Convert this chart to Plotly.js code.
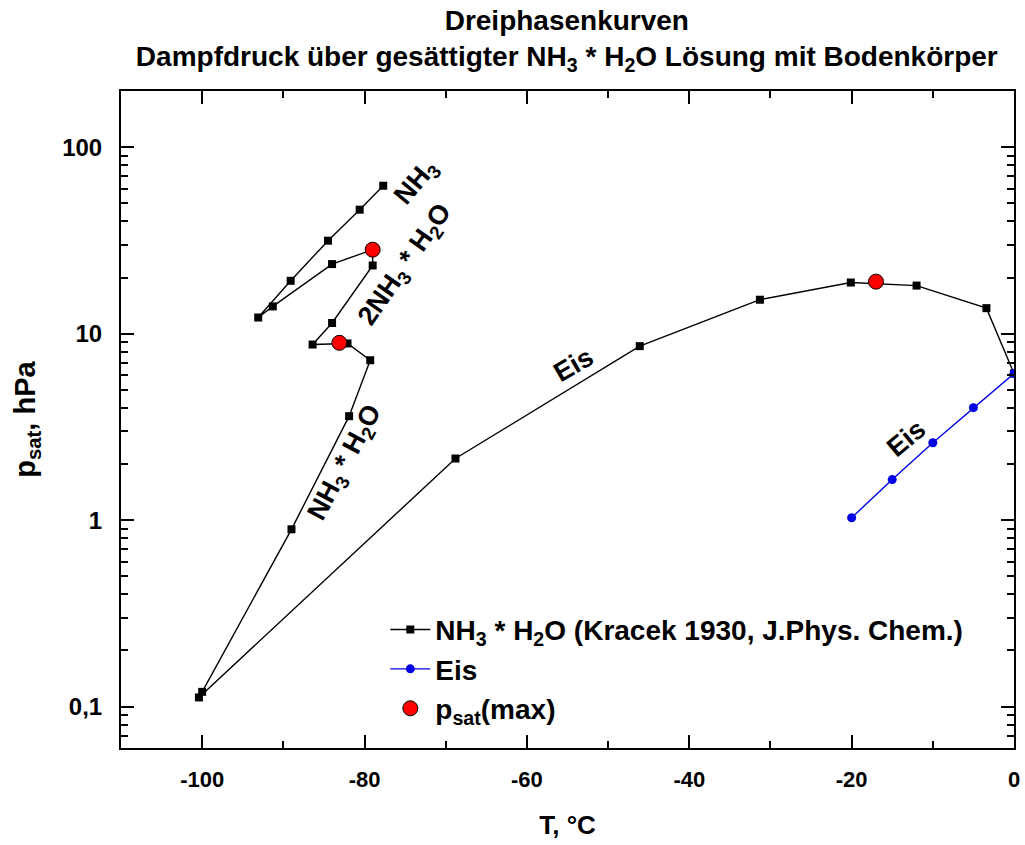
<!DOCTYPE html>
<html>
<head>
<meta charset="utf-8">
<script src="https://cdn.plot.ly/plotly-3.0.1.min.js"></script>
<style>html,body{margin:0;padding:0;background:#fff}#chart{width:1025px;height:845px}</style>
</head>
<body>
<div id="chart"></div>
<script>
// Kracek 1930: three-phase curve (one connected curve)
const kracekT = [0, -3.4, -12.0, -20.1, -31.3, -46.1, -68.8, -100.4, -100.0, -89.0, -81.9, -79.3, -82.1, -86.4, -84.0, -79.0, -79.0, -84.0, -91.3, -93.1, -89.1, -84.5, -80.6, -77.7];
const kracekP = [6.11, 13.7, 18.1, 18.8, 15.2, 8.57, 2.14, 0.112, 0.120, 0.893, 3.61, 7.20, 8.86, 8.74, 11.4, 23.2, 28.2, 23.6, 14.0, 12.2, 19.2, 31.5, 46.2, 62.1];
// Ice
const eisT = [-20, -15, -10, -5, 0];
const eisP = [1.03, 1.65, 2.60, 4.01, 6.11];
// maxima
const maxT = [-83.1, -79.0, -17.0];
const maxP = [8.93, 28.2, 19.0];

const xTickVals = [-100, -80, -60, -40, -20, 0];
const xTickText = ['-100', '-80', '-60', '-40', '-20', '0'];
const yTickVals = [0.1, 1, 10, 100];
const yTickText = ['0,1', '1', '10', '100'];

// curve labels
const labelText = ['NH<sub>3</sub>', '2NH<sub>3</sub> * H<sub>2</sub>O', 'NH<sub>3</sub> * H<sub>2</sub>O', 'Eis', 'Eis'];
const labelT = [-73.6, -74.9, -82.3, -54.3, -13.2];
const labelP = [64.5, 23.4, 2.02, 6.82, 2.75];
const labelAngle = [-50, -55, -62, -30, -40];

const FONT = 'Liberation Sans, Arial, sans-serif';

const traces = [
  {x: kracekT, y: kracekP, type: 'scatter', mode: 'lines+markers',
   name: 'NH<sub>3</sub> * H<sub>2</sub>O (Kracek 1930, J.Phys. Chem.)',
   line: {color: '#000', width: 1.4}, marker: {symbol: 'square', size: 8, color: '#000'},
   legendgroup: 'a'},
  {x: eisT, y: eisP, type: 'scatter', mode: 'lines+markers', name: 'Eis',
   line: {color: '#0000e6', width: 1.4}, marker: {symbol: 'circle', size: 9, color: '#0000e6'},
   legendgroup: 'b'},
  {x: maxT, y: maxP, type: 'scatter', mode: 'markers', name: 'p<sub>sat</sub>(max)',
   marker: {symbol: 'circle', size: 15, color: '#ff0000', line: {color: '#000', width: 1}},
   legendgroup: 'c'}
];

const annotations = labelText.map((t, i) => ({
  x: labelT[i], y: Math.log10(labelP[i]), xref: 'x', yref: 'y', text: t,
  showarrow: false, textangle: labelAngle[i],
  font: {family: FONT, size: 27, color: '#000', weight: 700}
}));

const layout = {
  width: 1025, height: 845,
  margin: {l: 121, r: 11, t: 91, b: 97},
  paper_bgcolor: '#fff', plot_bgcolor: '#fff',
  font: {family: FONT, size: 22, color: '#000', weight: 700},
  title: {text: 'Dreiphasenkurven<br>Dampfdruck über gesättigter NH<sub>3</sub> * H<sub>2</sub>O Lösung mit Bodenkörper',
          font: {family: FONT, size: 28, color: '#000', weight: 700},
          x: 0.553, xanchor: 'center', yref: 'container', y: 0.965, yanchor: 'top'},
  xaxis: {range: [-110, 0], tickvals: xTickVals, ticktext: xTickText,
          showline: true, linewidth: 2, linecolor: '#000', mirror: 'ticks',
          ticks: 'inside', ticklen: 13, tickwidth: 2, tickcolor: '#000',
          minor: {dtick: 10, tick0: 0, ticks: 'inside', ticklen: 7, tickwidth: 2, tickcolor: '#000', showgrid: false},
          showgrid: false, zeroline: false, ticklabelstandoff: 11,
          tickfont: {family: FONT, size: 22, weight: 700},
          title: {text: 'T, °C', standoff: 24, font: {family: FONT, size: 26, weight: 700}}},
  yaxis: {type: 'log', range: [Math.log10(0.06), Math.log10(200)],
          tickvals: yTickVals, ticktext: yTickText,
          showline: true, linewidth: 2, linecolor: '#000', mirror: 'ticks',
          ticks: 'inside', ticklen: 13, tickwidth: 2, tickcolor: '#000',
          minor: {dtick: 'D1', ticks: 'inside', ticklen: 7, tickwidth: 2, tickcolor: '#000', showgrid: false},
          showgrid: false, zeroline: false, ticklabelstandoff: 12,
          tickfont: {family: FONT, size: 24, weight: 700},
          title: {text: 'p<sub>sat</sub>, hPa', standoff: 18, font: {family: FONT, size: 29, weight: 700}}},
  showlegend: true,
  legend: {x: 0.296, y: 0.218, xanchor: 'left', yanchor: 'top', bgcolor: 'rgba(0,0,0,0)',
           font: {family: FONT, size: 28, color: '#000', weight: 700},
           tracegroupgap: 1, traceorder: 'normal', itemwidth: 40},
  annotations: annotations
};

Plotly.newPlot('chart', traces, layout, {displayModeBar: false, staticPlot: true});
</script>
</body>
</html>
